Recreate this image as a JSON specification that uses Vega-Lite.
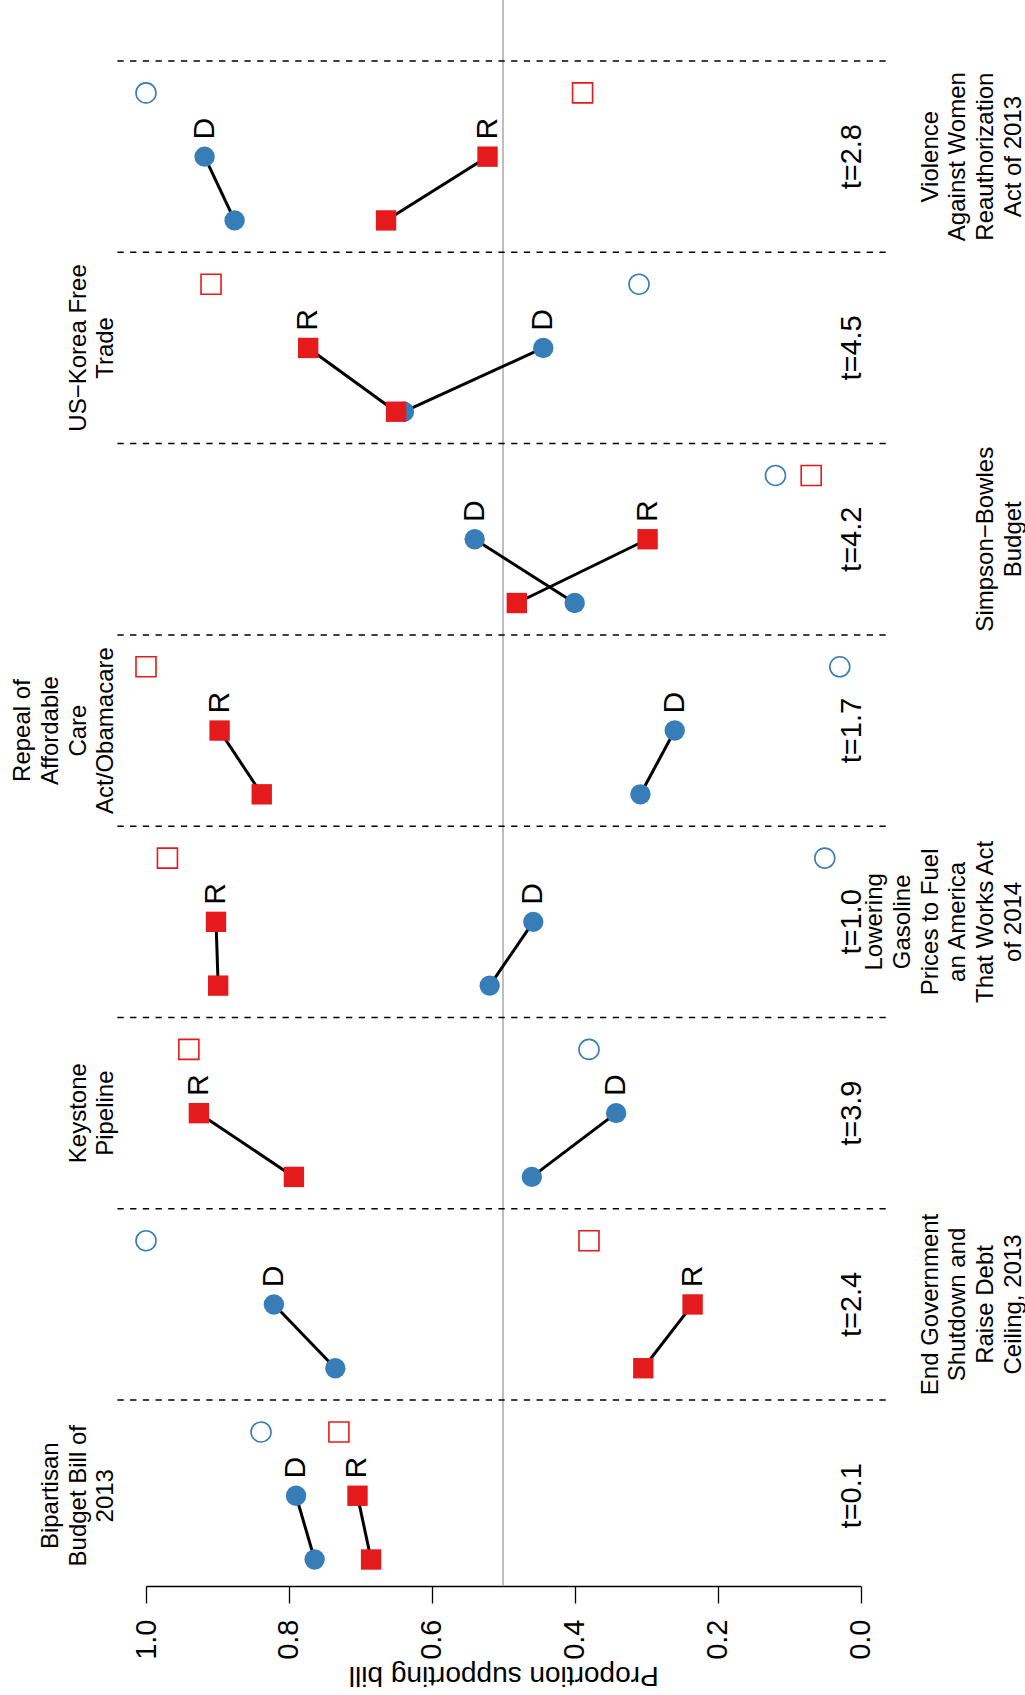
{
  "$schema": "https://vega.github.io/schema/vega-lite/v6.json",
  "width": 714.5,
  "height": 1586,
  "autosize": {"type": "none"},
  "padding": {"left": 146, "top": 0, "right": 164.5, "bottom": 109},
  "background": "white",
  "config": {
    "view": {"stroke": null},
    "font": "Liberation Sans",
    "text": {"font": "Liberation Sans", "color": "black"}
  },
  "datasets": {
    "bills": [
      {"bill": "vawa", "title": "Violence\nAgainst Women\nReauthorization\nAct of 2013", "t": "t=2.8"},
      {"bill": "korea", "title": "US−Korea Free\nTrade", "t": "t=4.5"},
      {"bill": "simpson", "title": "Simpson−Bowles\nBudget", "t": "t=4.2"},
      {"bill": "aca", "title": "Repeal of\nAffordable\nCare\nAct/Obamacare", "t": "t=1.7"},
      {"bill": "gasoline", "title": "Lowering\nGasoline\nPrices to Fuel\nan America\nThat Works Act\nof 2014", "t": "t=1.0"},
      {"bill": "keystone", "title": "Keystone\nPipeline", "t": "t=3.9"},
      {"bill": "shutdown", "title": "End Government\nShutdown and\nRaise Debt\nCeiling, 2013", "t": "t=2.4"},
      {"bill": "bipartisan", "title": "Bipartisan\nBudget Bill of\n2013", "t": "t=0.1"}
    ],
    "support": [
      {"bill": "bipartisan", "party": "D", "stage": "before", "share": 0.764},
      {"bill": "bipartisan", "party": "D", "stage": "after", "share": 0.790},
      {"bill": "bipartisan", "party": "D", "stage": "house", "share": 0.839},
      {"bill": "shutdown", "party": "D", "stage": "before", "share": 0.735},
      {"bill": "shutdown", "party": "D", "stage": "after", "share": 0.821},
      {"bill": "shutdown", "party": "D", "stage": "house", "share": 1.0},
      {"bill": "keystone", "party": "D", "stage": "before", "share": 0.460},
      {"bill": "keystone", "party": "D", "stage": "after", "share": 0.342},
      {"bill": "keystone", "party": "D", "stage": "house", "share": 0.380},
      {"bill": "gasoline", "party": "D", "stage": "before", "share": 0.519},
      {"bill": "gasoline", "party": "D", "stage": "after", "share": 0.458},
      {"bill": "gasoline", "party": "D", "stage": "house", "share": 0.050},
      {"bill": "aca", "party": "D", "stage": "before", "share": 0.308},
      {"bill": "aca", "party": "D", "stage": "after", "share": 0.260},
      {"bill": "aca", "party": "D", "stage": "house", "share": 0.029},
      {"bill": "simpson", "party": "D", "stage": "before", "share": 0.400},
      {"bill": "simpson", "party": "D", "stage": "after", "share": 0.540},
      {"bill": "simpson", "party": "D", "stage": "house", "share": 0.119},
      {"bill": "korea", "party": "D", "stage": "before", "share": 0.639},
      {"bill": "korea", "party": "D", "stage": "after", "share": 0.444},
      {"bill": "korea", "party": "D", "stage": "house", "share": 0.310},
      {"bill": "vawa", "party": "D", "stage": "before", "share": 0.876},
      {"bill": "vawa", "party": "D", "stage": "after", "share": 0.918},
      {"bill": "vawa", "party": "D", "stage": "house", "share": 1.0},
      {"bill": "bipartisan", "party": "R", "stage": "before", "share": 0.685},
      {"bill": "bipartisan", "party": "R", "stage": "after", "share": 0.704},
      {"bill": "bipartisan", "party": "R", "stage": "house", "share": 0.730},
      {"bill": "shutdown", "party": "R", "stage": "before", "share": 0.304},
      {"bill": "shutdown", "party": "R", "stage": "after", "share": 0.235},
      {"bill": "shutdown", "party": "R", "stage": "house", "share": 0.380},
      {"bill": "keystone", "party": "R", "stage": "before", "share": 0.793},
      {"bill": "keystone", "party": "R", "stage": "after", "share": 0.926},
      {"bill": "keystone", "party": "R", "stage": "house", "share": 0.940},
      {"bill": "gasoline", "party": "R", "stage": "before", "share": 0.899},
      {"bill": "gasoline", "party": "R", "stage": "after", "share": 0.902},
      {"bill": "gasoline", "party": "R", "stage": "house", "share": 0.970},
      {"bill": "aca", "party": "R", "stage": "before", "share": 0.838},
      {"bill": "aca", "party": "R", "stage": "after", "share": 0.897},
      {"bill": "aca", "party": "R", "stage": "house", "share": 1.0},
      {"bill": "simpson", "party": "R", "stage": "before", "share": 0.481},
      {"bill": "simpson", "party": "R", "stage": "after", "share": 0.298},
      {"bill": "simpson", "party": "R", "stage": "house", "share": 0.069},
      {"bill": "korea", "party": "R", "stage": "before", "share": 0.650},
      {"bill": "korea", "party": "R", "stage": "after", "share": 0.773},
      {"bill": "korea", "party": "R", "stage": "house", "share": 0.909},
      {"bill": "vawa", "party": "R", "stage": "before", "share": 0.664},
      {"bill": "vawa", "party": "R", "stage": "after", "share": 0.522},
      {"bill": "vawa", "party": "R", "stage": "house", "share": 0.389}
    ]
  },
  "layer": [
    {
      "description": "Grey reference line at one-half support, with the proportion axis",
      "data": {"name": "bills"},
      "mark": {"type": "rule", "color": "#BEBEBE", "strokeWidth": 1.5},
      "encoding": {
        "x": {
          "datum": 0.5,
          "type": "quantitative",
          "scale": {"domain": [0, 1], "reverse": true, "nice": false, "zero": false},
          "axis": {
            "title": "Proportion supporting bill",
            "values": [0, 0.2, 0.4, 0.6, 0.8, 1.0],
            "format": ".1f",
            "grid": false,
            "domainColor": "black",
            "domainWidth": 1.3,
            "tickColor": "black",
            "tickWidth": 1.3,
            "tickSize": 17,
            "labelAngle": 270,
            "labelAlign": "right",
            "labelBaseline": "middle",
            "labelFont": "Liberation Sans",
            "labelFontSize": 29,
            "labelColor": "black",
            "labelPadding": 16,
            "labelFlush": false,
            "labelOverlap": false,
            "titleAngle": 180,
            "titleBaseline": "bottom",
            "titleFont": "Liberation Sans",
            "titleFontSize": 28,
            "titleFontWeight": "normal",
            "titleColor": "black",
            "titlePadding": 1
          }
        }
      }
    },
    {
      "description": "Dashed separators between bills",
      "data": {"name": "bills"},
      "mark": {"type": "rule", "color": "black", "strokeWidth": 1.5, "strokeDash": [6.3, 6.4]},
      "encoding": {
        "y": {
          "field": "bill", "type": "nominal", "bandPosition": 0,
          "scale": {"domain": ["vawa", "korea", "simpson", "aca", "gasoline", "keystone", "shutdown", "bipartisan"], "range": [61, 1591.4], "paddingInner": 0, "paddingOuter": 0},
          "axis": null
        },
        "x": {"datum": 1.04, "type": "quantitative"},
        "x2": {"datum": -0.04}
      }
    },
    {
      "description": "Segments joining the two survey estimates for each party",
      "data": {"name": "support"},
      "transform": [{"filter": {"field": "stage", "oneOf": ["before", "after"]}}],
      "mark": {"type": "line", "color": "black", "strokeWidth": 3},
      "encoding": {
        "x": {"field": "share", "type": "quantitative"},
        "y": {"field": "bill", "type": "nominal"},
        "yOffset": {"field": "stage", "type": "nominal", "scale": {"type": "point", "domain": ["house", "after", "before"], "padding": 0.5}},
        "detail": [{"field": "bill"}, {"field": "party"}]
      }
    },
    {
      "description": "Survey estimates: filled circles (D) and squares (R)",
      "data": {"name": "support"},
      "transform": [{"filter": {"field": "stage", "oneOf": ["before", "after"]}}],
      "mark": {"type": "point", "filled": true, "opacity": 1, "size": 415},
      "encoding": {
        "x": {"field": "share", "type": "quantitative"},
        "y": {"field": "bill", "type": "nominal"},
        "yOffset": {"field": "stage", "type": "nominal", "scale": {"type": "point", "domain": ["house", "after", "before"], "padding": 0.5}},
        "color": {"field": "party", "type": "nominal", "scale": {"domain": ["D", "R"], "range": ["#377EB8", "#E41A1C"]}, "legend": null},
        "shape": {"field": "party", "type": "nominal", "scale": {"domain": ["D", "R"], "range": ["circle", "square"]}, "legend": null}
      }
    },
    {
      "description": "House roll-call support: open markers",
      "data": {"name": "support"},
      "transform": [{"filter": {"field": "stage", "equal": "house"}}],
      "mark": {"type": "point", "filled": false, "opacity": 1, "size": 400, "strokeWidth": 1.6},
      "encoding": {
        "x": {"field": "share", "type": "quantitative"},
        "y": {"field": "bill", "type": "nominal"},
        "yOffset": {"field": "stage", "type": "nominal", "scale": {"type": "point", "domain": ["house", "after", "before"], "padding": 0.5}},
        "color": {"field": "party", "type": "nominal", "legend": null},
        "shape": {"field": "party", "type": "nominal", "legend": null}
      }
    },
    {
      "description": "Party letters above the second survey estimate",
      "data": {"name": "support"},
      "transform": [{"filter": {"field": "stage", "equal": "after"}}],
      "mark": {"type": "text", "angle": 270, "fontSize": 30, "align": "center", "baseline": "middle", "dx": 28},
      "encoding": {
        "x": {"field": "share", "type": "quantitative"},
        "y": {"field": "bill", "type": "nominal"},
        "yOffset": {"field": "stage", "type": "nominal", "scale": {"type": "point", "domain": ["house", "after", "before"], "padding": 0.5}},
        "text": {"field": "party"}
      }
    },
    {
      "description": "t statistics at the zero edge",
      "data": {"name": "bills"},
      "mark": {"type": "text", "angle": 270, "fontSize": 29, "align": "center", "baseline": "alphabetic"},
      "encoding": {
        "x": {"datum": 0, "type": "quantitative"},
        "y": {"field": "bill", "type": "nominal"},
        "text": {"field": "t"}
      }
    },
    {
      "description": "Bill names beyond the 1.0 edge; the last line sits next to the plot",
      "data": {"name": "bills"},
      "transform": [{"filter": {"field": "bill", "oneOf": ["bipartisan", "keystone", "aca", "korea"]}}],
      "mark": {
        "type": "text", "angle": 270, "fontSize": 24, "lineBreak": "\n", "lineHeight": 27.8,
        "align": "center", "baseline": "alphabetic",
        "dy": {"expr": "-4 - (length(split(datum.title, '\\n')) - 1) * 27.8"}
      },
      "encoding": {
        "x": {"datum": 1.04, "type": "quantitative"},
        "y": {"field": "bill", "type": "nominal"},
        "text": {"field": "title"}
      }
    },
    {
      "description": "Bill names beyond the 0.0 edge; the last line sits at the outer margin",
      "data": {"name": "bills"},
      "transform": [{"filter": {"field": "bill", "oneOf": ["shutdown", "gasoline", "simpson", "vawa"]}}],
      "mark": {
        "type": "text", "angle": 270, "fontSize": 24, "lineBreak": "\n", "lineHeight": 27.8,
        "align": "center", "baseline": "alphabetic",
        "dy": {"expr": "132 - (length(split(datum.title, '\\n')) - 1) * 27.8"}
      },
      "encoding": {
        "x": {"datum": -0.04, "type": "quantitative"},
        "y": {"field": "bill", "type": "nominal"},
        "text": {"field": "title"}
      }
    }
  ]
}
